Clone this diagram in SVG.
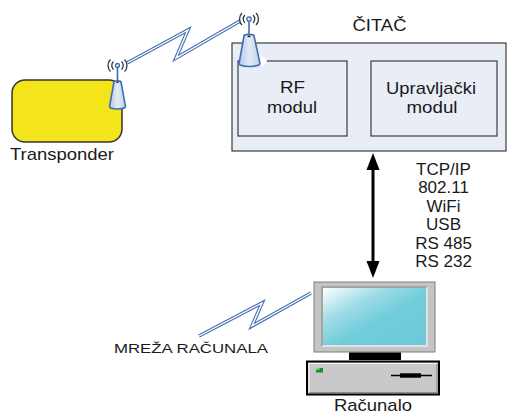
<svg xmlns="http://www.w3.org/2000/svg" width="507" height="414" viewBox="0 0 507 414">
  <defs>
    <style>
      .lbl { font-family: "Liberation Sans", Arial, sans-serif; font-size: 17px; fill: #1a1a1a; }
      .box { fill: #e8edf6; stroke: #3c3c3c; stroke-width: 1.2; }
      .ant { fill: url(#coneFill); stroke: #3f6db2; stroke-width: 1.6; }
      .mast { stroke: #3f6db2; stroke-width: 1.6; fill: none; }
      .wave { stroke: #2a3550; stroke-width: 1.3; fill: none; }
      .boltOut { fill: none; stroke: #4670b4; stroke-width: 3.6; stroke-linejoin: miter; }
      .boltIn { fill: none; stroke: #ffffff; stroke-width: 1.4; stroke-linejoin: miter; }
    </style>
    <linearGradient id="coneFill" x1="0" y1="0" x2="1" y2="0">
      <stop offset="0" stop-color="#b9c9e6"/>
      <stop offset="0.5" stop-color="#e3eaf6"/>
      <stop offset="1" stop-color="#c3d1ea"/>
    </linearGradient>
    <linearGradient id="screen" x1="0" y1="0" x2="1" y2="1">
      <stop offset="0" stop-color="#ffffff"/>
      <stop offset="0.3" stop-color="#9fdce6"/>
      <stop offset="0.55" stop-color="#72cddb"/>
      <stop offset="1" stop-color="#6cc9d8"/>
    </linearGradient>
  </defs>

  <!-- radio links -->
  <g id="connectors">
    <path class="boltOut" d="M127,63 L188,30 L176,58 L240,21"/>
    <path class="boltIn" d="M127,63 L188,30 L176,58 L240,21"/>
    <path class="boltOut" d="M199,336 L262,303 L252,326 L311,293"/>
    <path class="boltIn" d="M199,336 L262,303 L252,326 L311,293"/>
    <!-- wired link reader <-> computer -->
    <line x1="373" y1="166" x2="373" y2="264" stroke="#000" stroke-width="3"/>
    <polygon points="373,153 366.5,170 379.5,170" fill="#000"/>
    <polygon points="373,278 366.5,261 379.5,261" fill="#000"/>
  </g>

  <!-- transponder -->
  <g id="transponder">
    <rect x="12" y="80" width="110" height="62" rx="13" ry="13" fill="#f4e51a" stroke="#333" stroke-width="1.5"/>
    <text class="lbl" x="10" y="159.5" textLength="104" lengthAdjust="spacingAndGlyphs">Transponder</text>
    <line class="mast" x1="117.5" y1="82" x2="117.5" y2="67"/>
    <circle cx="117.5" cy="65.5" r="2" fill="#e3eaf6" stroke="#3f6db2" stroke-width="1.3"/>
    <path class="wave" d="M113.5,61.5 A5.5,5.5 0 0 0 113.5,69.5 M110.5,59.5 A8.5,8.5 0 0 0 110.5,71.5 M121.5,61.5 A5.5,5.5 0 0 1 121.5,69.5 M124.5,59.5 A8.5,8.5 0 0 1 124.5,71.5"/>
    <path class="ant" d="M114,82 L109.5,106.5 A8,2.5 0 0 0 125.5,106.5 L121,82 A3.5,1.3 0 0 0 114,82 Z"/>
    <ellipse cx="117.5" cy="82.3" rx="1.4" ry="0.8" fill="#222"/>
  </g>

  <!-- reader -->
  <g id="reader">
    <rect class="box" x="232" y="43" width="274" height="108"/>
    <text class="lbl" x="352.5" y="30.5" textLength="54" lengthAdjust="spacingAndGlyphs">ČITAČ</text>
    <g id="rf-module">
      <rect class="box" x="238" y="61" width="109" height="75"/>
      <text class="lbl" x="280" y="93" textLength="25" lengthAdjust="spacingAndGlyphs">RF</text>
      <text class="lbl" x="267" y="113" textLength="50" lengthAdjust="spacingAndGlyphs">modul</text>
    </g>
    <g id="control-module">
      <rect class="box" x="371" y="61" width="126" height="75"/>
      <text class="lbl" x="386" y="94" textLength="90" lengthAdjust="spacingAndGlyphs">Upravljački</text>
      <text class="lbl" x="406.5" y="113" textLength="51" lengthAdjust="spacingAndGlyphs">modul</text>
    </g>
    <!-- reader antenna -->
    <ellipse cx="257" cy="61" rx="10" ry="5.5" fill="#ffffff"/>
    <line class="mast" x1="249" y1="36" x2="249" y2="21"/>
    <circle cx="249" cy="19" r="2.2" fill="#e3eaf6" stroke="#3f6db2" stroke-width="1.3"/>
    <path class="wave" d="M245,15 A5.5,5.5 0 0 0 245,23 M242,13 A8.5,8.5 0 0 0 242,25 M253,15 A5.5,5.5 0 0 1 253,23 M256,13 A8.5,8.5 0 0 1 256,25"/>
    <path class="ant" d="M244,36 L239,63.5 A10.5,3 0 0 0 260,63.5 L254,36 A5,1.6 0 0 0 244,36 Z"/>
    <ellipse cx="249" cy="36.3" rx="1.6" ry="0.9" fill="#222"/>
  </g>

  <!-- interface list -->
  <g id="interfaces" class="lbl" text-anchor="middle">
    <text x="443.5" y="174.5">TCP/IP</text>
    <text x="443.5" y="193">802.11</text>
    <text x="443.5" y="211.5">WiFi</text>
    <text x="443.5" y="230">USB</text>
    <text x="443.5" y="248.5">RS 485</text>
    <text x="443.5" y="267">RS 232</text>
  </g>

  <!-- network label -->
  <g id="network">
    <text class="lbl" x="114" y="353" style="font-size:13.5px" textLength="154" lengthAdjust="spacingAndGlyphs">MREŽA RAČUNALA</text>
  </g>

  <!-- computer -->
  <g id="computer">
    <rect x="314" y="282" width="121" height="70" fill="#c4c4c4" stroke="#7f7f7f" stroke-width="1"/>
    <rect x="321" y="286" width="107" height="61" fill="#a4a4a4"/>
    <path d="M321,347 L428,347 L428,286 L426,288 L426,345 L323,345 Z" fill="#e2e2e2"/>
    <rect x="323" y="288" width="103" height="57" fill="url(#screen)"/>
    <rect x="349" y="352.5" width="52" height="7.5" fill="#000"/>
    <rect x="307" y="361.5" width="132" height="33" fill="#c9c9c9" stroke="#000" stroke-width="2"/>
    <path d="M309,392.5 L309,363.5 L437,363.5" fill="none" stroke="#f2f2f2" stroke-width="1.2"/>
    <path d="M309.5,392.5 L437,392.5 L437,364" fill="none" stroke="#8a8a8a" stroke-width="1.2"/>
    <rect x="316" y="368" width="7" height="4.5" fill="#1e8c3e"/>
    <rect x="316" y="368" width="3.5" height="2" fill="#7acb6a"/>
    <line x1="391" y1="375.5" x2="432" y2="375.5" stroke="#000" stroke-width="1.5"/>
    <rect x="400" y="373.3" width="21" height="4.4" fill="#000"/>
    <text class="lbl" x="334" y="410.5" textLength="78" lengthAdjust="spacingAndGlyphs">Računalo</text>
  </g>
</svg>
